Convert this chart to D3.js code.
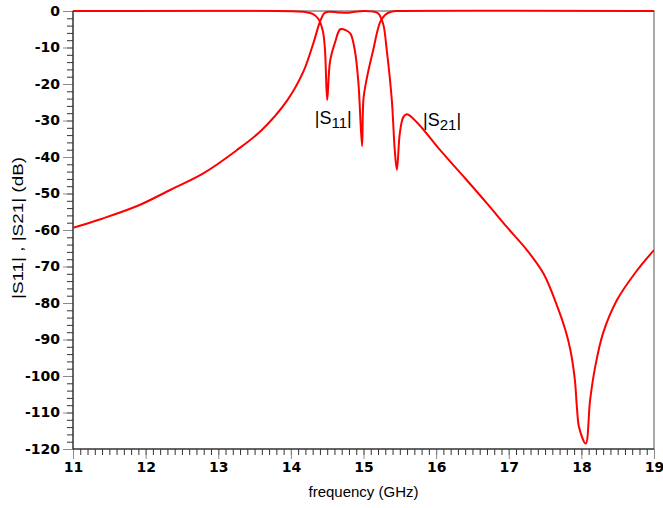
<!DOCTYPE html>
<html>
<head>
<meta charset="utf-8">
<script src="https://d3js.org/d3.v7.min.js"></script>
<style>
    body { margin: 0; background: #ffffff; }
    .tick text { font-family: "DejaVu Sans", sans-serif; font-weight: bold; font-size: 14px; fill: #000; }
    .major line { stroke: #8a8a8a; }
    .minor line { stroke: #333; }
    .domain { display: none; }
</style>
</head>
<body>
<svg width="663" height="508"></svg>
<script>
    // values (frequency in GHz, level in dB)
    var s21Freq = [11.0, 11.4, 11.9, 12.35, 12.8, 13.25, 13.6, 13.95, 14.17, 14.31, 14.4, 14.46, 14.52, 14.65,
        14.77, 14.88, 15.0, 15.1, 15.2, 15.27, 15.32, 15.39, 15.43, 15.46, 15.5, 15.55, 15.6, 15.75, 16.05,
        16.38, 16.7, 16.97, 17.25, 17.48, 17.66, 17.78, 17.85, 17.91, 17.94, 17.97, 18.06, 18.12, 18.19,
        18.3, 18.49, 18.75, 19.0];
    var s21Db = [-59.4, -56.9, -53.3, -48.9, -44.4, -38.2, -32.6, -24.5, -16.7, -8.8, -3.0, -0.6, -0.2, -0.4,
        -0.5, -0.2, 0, -0.1, -0.6, -3.5, -10.7, -24.4, -38, -43.5, -33.5, -29, -28.3, -30.8, -38,
        -45.4, -52.7, -59.1, -65.5, -72, -80.5, -87.4, -93, -101, -109, -114.2, -118.5, -106.6, -97.5,
        -88.2, -79.2, -71.5, -65.5];

    var s11Freq = [11.0, 14.0, 14.2, 14.3, 14.38, 14.44, 14.47, 14.5, 14.54, 14.61, 14.68, 14.76, 14.82, 14.88,
        14.93, 14.98, 15.0, 15.05, 15.13, 15.23, 15.3, 15.38, 15.5, 19.0];
    var s11Db = [0, -0.05, -0.3, -0.8, -2.2, -5.5, -10.7, -24.4, -13.7, -8.5, -5, -5.3, -6.2, -10.7,
        -19.7, -37, -24, -18, -11, -3, -1, -0.2, 0, 0];

    var xTicks = [11, 12, 13, 14, 15, 16, 17, 18, 19];
    var yTicks = [0, -10, -20, -30, -40, -50, -60, -70, -80, -90, -100, -110, -120];

    var svg = d3.select("svg"),
        margin = {top: 11, right: 9, bottom: 59, left: 73},
        width = +svg.attr("width") - margin.left - margin.right,
        height = +svg.attr("height") - margin.top - margin.bottom;

    var x = d3.scaleLinear().domain([11, 19]).range([0, width]);
    var y = d3.scaleLinear().domain([-120, 0]).range([height, 0]);

    var g = svg.append("g")
        .attr("transform", "translate(" + margin.left + "," + margin.top + ")");

    // keep curve overshoot above 0 dB out, but let the 2px line at 0 dB show whole
    svg.append("clipPath").attr("id", "plot")
        .append("rect").attr("y", -1.5).attr("width", width).attr("height", height + 2.5);

    // minor ticks
    g.append("g")
        .attr("class", "minor")
        .attr("transform", "translate(0," + height + ")")
        .call(d3.axisBottom(x).tickValues(d3.range(110, 191).map(function (d) { return d / 10; }))
            .tickSize(6).tickFormat(""));
    g.append("g")
        .attr("class", "minor")
        .call(d3.axisLeft(y).tickValues(d3.range(-120, 1, 2)).tickSize(6).tickFormat(""));

    // major ticks + labels (plain hyphen for negatives)
    g.append("g")
        .attr("class", "major")
        .attr("transform", "translate(0," + height + ")")
        .call(d3.axisBottom(x).tickValues(xTicks).tickSize(10).tickPadding(3).tickFormat(String));
    g.append("g")
        .attr("class", "major")
        .call(d3.axisLeft(y).tickValues(yTicks).tickSize(10).tickPadding(3).tickFormat(String));

    // frame
    g.append("rect")
        .attr("width", width).attr("height", height)
        .attr("fill", "none").attr("stroke", "#555").attr("stroke-width", 1);
    g.append("line").attr("x1", 0).attr("x2", 0).attr("y1", 0).attr("y2", height)
        .attr("stroke", "#222");
    g.append("line").attr("x1", 0).attr("x2", width).attr("y1", height).attr("y2", height)
        .attr("stroke", "#222");

    var line = d3.line()
        .x(function (d) { return x(d[0]); })
        .y(function (d) { return y(d[1]); })
        .curve(d3.curveCatmullRom.alpha(0.5));

    [[s21Freq, s21Db], [s11Freq, s11Db]].forEach(function (s) {
        g.append("path")
            .datum(d3.zip(s[0], s[1]))
            .attr("clip-path", "url(#plot)")
            .attr("fill", "none")
            .attr("stroke", "#ff0000")
            .attr("stroke-width", 2)
            .attr("d", line);
    });

    // curve labels
    function curveLabel(px, py, sub) {
        var t = g.append("text")
            .attr("x", px).attr("y", py)
            .style("font-family", "Liberation Sans, Arial, sans-serif")
            .style("font-size", "18px");
        t.append("tspan").text("|S");
        t.append("tspan").attr("dy", 4).style("font-size", "15px").text(sub);
        t.append("tspan").attr("dy", -4).text("|");
    }
    curveLabel(x(14.33), y(-31), "11");
    curveLabel(x(15.82), y(-31.5), "21");

    // axis titles
    svg.append("text")
        .attr("x", margin.left + width / 2)
        .attr("y", 497)
        .attr("text-anchor", "middle")
        .style("font-family", "Liberation Sans, Arial, sans-serif")
        .style("font-size", "15px")
        .text("frequency (GHz)");

    svg.append("text")
        .attr("transform", "translate(23,228) rotate(-90)")
        .attr("text-anchor", "middle")
        .attr("textLength", 142)
        .attr("lengthAdjust", "spacingAndGlyphs")
        .style("font-family", "Liberation Sans, Arial, sans-serif")
        .style("font-size", "15px")
        .text("|S11| , |S21|  (dB)");
</script>
</body>
</html>
